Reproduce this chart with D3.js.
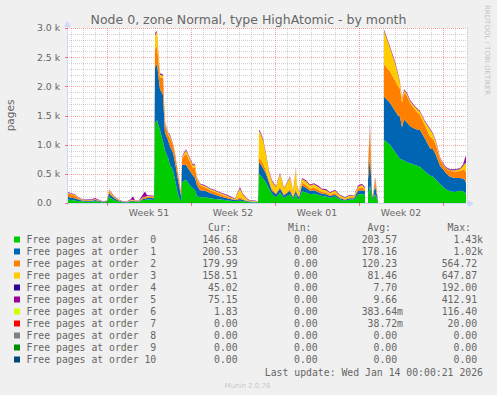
<!DOCTYPE html>
<html>
<head>
<meta charset="utf-8">
<script src="https://cdn.jsdelivr.net/npm/d3@7"></script>
<style>
body{margin:0;background:#f0f0f0}
svg{display:block}
text{font-family:"DejaVu Sans",sans-serif;fill:#666}
.mono{font-family:"DejaVu Sans Mono",monospace;white-space:pre;font-size:9.8px}
</style>
</head>
<body>
<svg></svg>
<script>
const width = 497
const height = 395
let marge = {top:28, left:67, right:30, bottom:192}

// series: Free pages at order 0..10
const keys = ["o0","o1","o2","o3","o4","o5","o6","o7","o8","o9","o10"]
const names = keys.map((k,i) => "Free pages at order " + (i < 10 ? " " : "") + i)
const colors = ["#00CC00","#0066B3","#FF8000","#FFCC00","#330099","#990099","#CCFF00","#FF0000","#808080","#008F00","#00487D"]

// hours after the start of the graph, null rows = no data
const hours = [0,8,16,24,32,40,48,56,64,72,80,84,88,96,104,112,120,128,132,136,144,152,156,160,168,174,
  176,180,186,192,196,202,206,212,216,222,226,228,230,234,238,246,252,256,260,266,276,286,296,306,316,326,
  336,342,346,352,360,366,376,382,384,386,392,398,404,410,418,426,434,440,446,452,458,460,464,470,478,486,
  494,502,510,518,526,536,546,556,566,574,582,590,596,599,602,606,610,612,616,618,622,628,634,646,656,662,
  666,670,674,680,686,696,706,716,726,732,738,746,752,758,766,776,786,792,796,798]

const order0 = [60,50,45,30,25,20,20,30,20,10,20,110,80,45,25,10,10,20,20,20,20,50,50,60,55,50,
  1380,1420,1250,1050,900,780,650,560,400,150,60,30,350,380,400,300,250,220,120,100,100,80,70,60,50,40,
  30,40,40,30,20,15,10,10,500,480,420,350,250,150,100,180,90,120,150,70,150,100,60,200,180,150,
  160,140,120,110,90,110,60,40,60,60,150,150,150,null,150,300,80,60,150,120,20,null,1080,1000,880,800,
  760,740,730,700,680,650,620,540,470,450,400,320,280,230,200,190,210,200,180,147]
const order1 = [50,40,35,25,15,20,15,20,15,10,15,60,50,30,15,10,8,15,15,10,10,20,20,30,30,30,
  950,960,700,800,300,300,320,300,300,250,150,100,300,280,250,250,220,210,180,120,110,90,70,50,40,30,
  20,20,30,20,15,10,10,5,200,200,180,150,100,60,50,70,40,50,60,30,60,50,40,100,80,60,
  60,50,40,40,30,30,20,15,20,20,60,70,50,null,250,500,40,30,150,100,10,null,740,720,700,700,
  720,560,700,680,640,620,630,560,470,470,420,320,300,280,250,240,220,220,210,200]
const order2 = [60,55,50,20,10,10,10,15,10,5,5,40,30,15,10,5,5,10,10,8,8,20,20,20,20,20,
  300,320,200,300,150,100,150,130,130,100,70,60,100,150,200,160,130,170,100,80,60,50,50,40,30,20,
  10,20,30,20,10,5,5,5,80,80,80,50,40,30,20,30,20,20,30,20,30,30,20,50,50,40,
  40,40,30,30,20,30,20,15,20,20,40,50,30,null,200,450,20,20,100,80,5,null,560,540,520,500,
  480,420,460,460,400,330,260,230,200,180,170,110,80,80,100,110,120,150,170,180]
const order3 = [10,10,10,5,3,5,3,5,3,2,2,20,15,5,5,2,2,5,5,5,5,10,10,10,10,10,
  250,230,50,30,30,20,30,20,20,20,10,10,20,40,50,40,40,60,30,20,20,20,20,20,20,15,
  10,100,150,70,20,10,10,5,450,450,400,280,150,130,100,220,100,150,200,80,350,120,60,60,60,50,
  60,50,40,40,30,40,30,20,30,20,30,40,20,null,20,50,10,10,20,20,5,null,570,400,300,200,
  100,50,40,30,30,40,50,60,120,80,50,20,10,10,10,20,30,60,120,158]
const order4 = [3,3,3,2,1,1,1,2,1,1,1,3,3,2,1,1,1,4,4,1,1,8,8,3,3,3,
  10,5,5,5,3,3,3,3,3,3,3,3,3,3,3,3,3,3,3,3,3,3,3,3,3,3,
  3,3,3,3,3,2,2,1,5,5,5,5,3,3,3,3,3,3,3,3,5,3,3,3,3,3,
  3,3,3,3,3,3,3,3,3,3,3,3,3,null,5,10,3,3,5,3,3,null,5,5,5,5,
  5,5,5,5,5,5,5,5,5,5,5,5,5,5,5,5,5,10,30,45]
const order5 = [15,10,5,7,5,8,10,12,5,2,2,5,10,7,3,2,4,15,60,5,5,40,90,15,10,10,
  20,20,20,20,15,10,15,10,10,10,5,5,10,15,20,15,15,15,10,10,10,10,10,10,10,10,
  5,15,20,15,10,7,7,3,20,20,20,20,15,15,10,15,10,10,15,10,20,10,10,15,15,15,
  15,15,10,15,10,15,10,10,10,5,15,15,15,null,30,60,10,10,20,20,10,null,20,20,20,20,
  15,15,15,15,15,12,12,12,12,12,12,12,12,12,12,12,12,20,60,75]
const series = [order0, order1, order2, order3, order4, order5]

// legend columns
const curVals = [146.68, 200.53, 179.99, 158.51, 45.02, 75.15, 1.83, 0, 0, 0, 0]
const minVals = [0, 0, 0, 0, 0, 0, 0, 0, 0, 0, 0]
const avgVals = [203.57, 178.16, 120.23, 81.46, 7.70, 9.66, 0.38364, 0.03872, 0, 0, 0]
const maxVals = [1430, 1020, 564.72, 647.87, 192.00, 412.91, 116.40, 20.00, 0, 0, 0]

const endTime = new Date(Date.UTC(2026, 0, 14, 0, 0, 21))
const startTime = new Date(+endTime - 800 * 3600e3)

const rows = hours.map((h, i) => {
  let r = {date: new Date(+startTime + h * 3600e3), gap: order0[i] === null}
  keys.forEach((k, j) => { r[k] = (j < series.length && series[j][i] !== null) ? series[j][i] : 0 })
  return r
})

const svg = d3.select('svg').attr('width', width).attr('height', height)

const x = d3.scaleUtc().domain([startTime, endTime]).range([marge.left, width - marge.right])
const y = d3.scaleLinear().domain([0, 3000]).range([height - marge.bottom, marge.top])
const x0 = x.range()[0], x1 = x.range()[1], y0 = y.range()[0], y1 = y.range()[1]

// 画布
svg.append('rect').attr('x', x0).attr('y', y1).attr('width', x1 - x0).attr('height', y0 - y1).attr('fill', '#fff')

// 网格
let grid = svg.append('g').attr('shape-rendering', 'crispEdges')
y.ticks(30).forEach(v => {
  grid.append('line').attr('x1', x0).attr('x2', x1).attr('y1', Math.round(y(v)) + 0.5).attr('y2', Math.round(y(v)) + 0.5)
    .attr('stroke', v % 500 === 0 ? 'rgba(240,0,0,0.35)' : 'rgba(143,143,143,0.4)').attr('stroke-dasharray', '1,1')
})
const days = x.ticks(d3.utcDay)
const mondays = x.ticks(d3.utcMonday)
days.forEach(d => {
  let isMajor = d.getUTCDay() === 1
  grid.append('line').attr('x1', Math.round(x(d)) + 0.5).attr('x2', Math.round(x(d)) + 0.5).attr('y1', y1).attr('y2', y0)
    .attr('stroke', isMajor ? 'rgba(240,0,0,0.35)' : 'rgba(143,143,143,0.4)').attr('stroke-dasharray', '1,1')
})

// 堆叠面积
const stack = d3.stack().keys(keys)(rows)
const area = d3.area()
  .defined(d => !d.data.gap)
  .x(d => x(d.data.date))
  .y0(d => y(d[0]))
  .y1(d => y(d[1]))
svg.append('g').selectAll('path').data(stack).enter().append('path')
  .attr('fill', (d, i) => colors[i])
  .attr('d', area)

// 坐标轴
const axisColor = '#CFD6F8'
let ax = svg.append('g').attr('shape-rendering', 'crispEdges')
ax.append('line').attr('x1', x0).attr('x2', x1 + 2).attr('y1', y0 + 0.5).attr('y2', y0 + 0.5).attr('stroke', axisColor)
ax.append('line').attr('x1', x0 + 0.5).attr('x2', x0 + 0.5).attr('y1', y0 + 2).attr('y2', y1 - 2).attr('stroke', axisColor)
svg.append('path').attr('d', `M${x1 + 7},${y0 + 0.5}L${x1 + 1},${y0 - 3}L${x1 + 1},${y0 + 4}Z`).attr('fill', axisColor)
svg.append('path').attr('d', `M${x0 + 0.5},${y1 - 7}L${x0 - 3},${y1 - 1}L${x0 + 4},${y1 - 1}Z`).attr('fill', axisColor)
mondays.forEach(d => {
  ax.append('line').attr('x1', Math.round(x(d)) + 0.5).attr('x2', Math.round(x(d)) + 0.5).attr('y1', y0 - 1).attr('y2', y0 + 3).attr('stroke', 'rgba(240,0,0,0.5)')
})
y.ticks(6).forEach(v => {
  ax.append('line').attr('x1', x0 - 2).attr('x2', x0 + 1).attr('y1', Math.round(y(v)) + 0.5).attr('y2', Math.round(y(v)) + 0.5).attr('stroke', 'rgba(240,0,0,0.5)')
})

// 刻度文字
svg.append('g').selectAll('text').data(y.ticks(6)).enter().append('text')
  .attr('x', 37).attr('y', d => y(d)).attr('dy', '0.36em').style('font-size', '9.3px')
  .text(d => d === 0 ? '0.0' : (d / 1000).toFixed(1) + ' k')

// 周标签放在每周中间
const weekFmt = d3.utcFormat('%V')
const weekMid = d3.utcMonday.range(d3.utcDay.offset(startTime, -7), endTime)
  .map(d => d3.utcHour.offset(d, 84))
  .filter(d => d > startTime && d < endTime)
svg.append('g').selectAll('text').data(weekMid).enter().append('text')
  .attr('x', d => x(d)).attr('y', 216).attr('text-anchor', 'middle').style('font-size', '9.3px')
  .text(d => 'Week ' + weekFmt(d))

// 标题
svg.append('text').attr('x', 248.5).attr('y', 23.5).attr('text-anchor', 'middle').style('font-size', '12.5px')
  .text('Node 0, zone Normal, type HighAtomic - by month')
svg.append('text').attr('transform', 'translate(13.5,115.5) rotate(-90)').attr('text-anchor', 'middle').style('font-size', '10.5px')
  .text('pages')
svg.append('text').attr('transform', 'translate(485,5) rotate(90)').style('font-size', '7px').style('fill', '#c4c4c4')
  .text('RRDTOOL / TOBI OETIKER')

// 图例
function fmt(v) {
  if (v >= 1000) return (v / 1000).toFixed(2) + 'k'
  if (v > 0 && v < 1) return (v * 1000).toFixed(2) + 'm'
  return v.toFixed(2) + ' '
}
const cols = [{name: 'Cur:', vals: curVals, end: 243.5}, {name: 'Min:', vals: minVals, end: 323.5},
  {name: 'Avg:', vals: avgVals, end: 403}, {name: 'Max:', vals: maxVals, end: 483}]
let lg = svg.append('g')
cols.forEach(c => {
  lg.append('text').attr('class', 'mono').attr('x', c.end - 12).attr('y', 231).attr('text-anchor', 'end').text(c.name)
})
names.forEach((n, i) => {
  let by = 243 + i * 12
  lg.append('rect').attr('x', 14).attr('y', by - 6.5).attr('width', 6).attr('height', 6).attr('fill', colors[i])
  lg.append('text').attr('class', 'mono').attr('x', 26.5).attr('y', by).text(n)
  cols.forEach(c => {
    lg.append('text').attr('class', 'mono').attr('x', c.end).attr('y', by).attr('text-anchor', 'end').text(fmt(c.vals[i]))
  })
})
lg.append('text').attr('class', 'mono').attr('x', 483).attr('y', 376).attr('text-anchor', 'end')
  .text('Last update: Wed Jan 14 00:00:21 2026')
svg.append('text').attr('x', 247.5).attr('y', 387.5).attr('text-anchor', 'middle').style('font-size', '7px').style('fill', '#c8c8c8')
  .text('Munin 2.0.76')
</script>
</body>
</html>
